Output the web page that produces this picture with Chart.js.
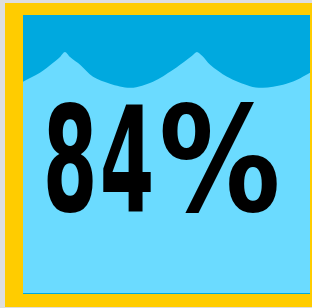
<!DOCTYPE html>
<html>
<head>
<meta charset="utf-8">
<script src="https://cdn.jsdelivr.net/npm/chart.js@4/dist/chart.umd.min.js"></script>
<style>
    html, body { margin: 0; padding: 0; background: #dedede; overflow: hidden; width: 312px; height: 308px; }
    .moldura { position: absolute; left: 5px; top: 3px; width: 330px; height: 304px; background: #ffcc00; }
    .caixa { position: absolute; left: 18px; top: 12px; width: 287px; height: 278px; background: #6bdbff; border-bottom: 1px solid #00a9df; }
    canvas { display: block; }
</style>
</head>
<body>
<div class="moldura">
    <div class="caixa"><canvas id="grafico" width="287" height="278"></canvas></div>
</div>
<script>
// valor mostrado e contorno da onda (x = % da largura, y = nível em %)
const valor = 84;
const ondaX = [0, 5.9, 10.5, 12.9, 14.6, 16.4, 19.9, 24.4, 30.3, 37.6, 45.3, 52.3, 57.1, 58.9, 60.6, 62.4, 65.2, 71.1, 79.1, 83.6, 90.6, 95.5, 100];
const ondaY = [76.0, 79.2, 82.8, 84.9, 86.7, 84.9, 82.1, 77.8, 75.3, 73.8, 76.0, 80.3, 83.9, 85.3, 86.7, 85.3, 82.1, 77.8, 74.4, 73.8, 74.9, 76.7, 79.2];

// fonte condensada "na mão": cada caractere esticado para sua caixa
const caixasTexto = [[24, 46], [80, 48], [139, 115]];

const textoValor = {
    id: 'textoValor',
    afterDraw(chart) {
        const ctx = chart.ctx;
        const chars = `${valor}%`.split('');
        ctx.save();
        ctx.font = 'bold 147px "DejaVu Sans"';
        ctx.textAlign = 'left';
        ctx.textBaseline = 'alphabetic';
        ctx.fillStyle = '#000';
        chars.forEach((c, i) => {
            const [esq, larg] = caixasTexto[i] ?? caixasTexto[caixasTexto.length - 1];
            const m = ctx.measureText(c);
            const sx = larg / (m.actualBoundingBoxLeft + m.actualBoundingBoxRight);
            ctx.save();
            ctx.translate(esq + m.actualBoundingBoxLeft * sx, 196);
            ctx.scale(sx, 1);
            ctx.fillText(c, 0, 0);
            ctx.restore();
        });
        ctx.restore();
    }
};

new Chart(document.getElementById('grafico'), {
    type: 'line',
    data: {
        datasets: [{
            data: ondaX.map((x, i) => ({ x, y: ondaY[i] })),
            borderWidth: 0,
            pointRadius: 0,
            backgroundColor: '#00a9df',
            fill: 'end',
            tension: 0.3,
        }]
    },
    options: {
        responsive: false,
        animation: false,
        layout: { padding: 0 },
        plugins: { legend: { display: false }, tooltip: { enabled: false } },
        scales: {
            x: { type: 'linear', min: 0, max: 100, display: false },
            y: { min: 0, max: 100, display: false }
        }
    },
    plugins: [textoValor]
});
</script>
</body>
</html>
